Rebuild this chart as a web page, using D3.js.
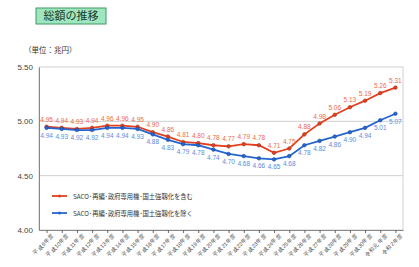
<!DOCTYPE html>
<html lang="ja">
<head>
<meta charset="UTF-8">
<script src="https://d3js.org/d3.v7.min.js"></script>
<style>
  body { margin: 0; background: #fff; }
  svg { display: block; font-family: "Noto Sans CJK JP", "Noto Sans", sans-serif; }
</style>
</head>
<body>
<svg id="chart" width="419" height="267"></svg>
<script>
// 年度
const years = ["平成9年度","平成10年度","平成11年度","平成12年度","平成13年度","平成14年度","平成15年度","平成16年度",
  "平成17年度","平成18年度","平成19年度","平成20年度","平成21年度","平成22年度","平成23年度","平成24年度",
  "平成25年度","平成26年度","平成27年度","平成28年度","平成29年度","平成30年度","令和元年度","令和2年度"];
// SACO等を含む
const withSaco = [4.95,4.94,4.93,4.94,4.96,4.96,4.95,4.90,4.86,4.81,4.80,4.78,4.77,4.79,4.78,4.71,4.75,4.88,4.98,5.06,5.13,5.19,5.26,5.31];
// SACO等を除く
const withoutSaco = [4.94,4.93,4.92,4.92,4.94,4.94,4.93,4.88,4.83,4.79,4.78,4.74,4.70,4.68,4.66,4.65,4.68,4.78,4.82,4.86,4.90,4.94,5.01,5.07];
const yTicks = [4.00, 4.50, 5.00, 5.50];
const seriesNames = ["SACO･再編･政府専用機･国土強靱化を含む", "SACO･再編･政府専用機･国土強靱化を除く"];

const svg = d3.select("#chart");
const plotL = 39, plotR = 403, plotT = 67, plotB = 230;

const x = d3.scalePoint().domain(years).range([plotL, plotR]).padding(0.5);
const y = d3.scaleLinear().domain([4.0, 5.5]).range([plotB, plotT]);

// タイトル
svg.append("rect").attr("x", 36).attr("y", 8).attr("width", 70).attr("height", 16)
  .attr("fill", "#9fe6bf").attr("stroke", "#3d9a66").attr("stroke-width", 1);
svg.append("text").attr("x", 71).attr("y", 20).attr("text-anchor", "middle")
  .attr("font-size", 11).attr("fill", "#1a3a2a").text("総額の推移");
svg.append("text").attr("x", 24).attr("y", 53)
  .attr("font-size", 7.5).attr("fill", "#333").text("（単位：兆円）");

// 枠・グリッド
svg.append("rect").attr("x", plotL).attr("y", plotT).attr("width", plotR - plotL).attr("height", plotB - plotT)
  .attr("fill", "none").attr("stroke", "#d0d0d0");
svg.append("g").selectAll("line").data(yTicks.slice(1, 3)).join("line")
  .attr("x1", plotL).attr("x2", plotR).attr("y1", d => y(d)).attr("y2", d => y(d))
  .attr("stroke", "#cfcfcf");

// y軸
const yAxis = svg.append("g").attr("transform", `translate(${plotL},0)`)
  .call(d3.axisLeft(y).tickValues(yTicks).tickFormat(d3.format(".2f")).tickSize(0).tickPadding(6));
yAxis.select(".domain").attr("stroke", "#888");
yAxis.selectAll("text").attr("font-size", 8).attr("fill", "#444").attr("font-family", "Liberation Sans, Arial, sans-serif");

// x軸
const xAxis = svg.append("g").attr("transform", `translate(0,${plotB})`)
  .call(d3.axisBottom(x).tickSize(3).tickSizeOuter(0));
xAxis.select(".domain").attr("stroke", "#888");
xAxis.selectAll(".tick line").attr("stroke", "#666");
xAxis.selectAll("text")
  .attr("font-size", 5.5).attr("fill", "#444")
  .attr("text-anchor", "end")
  .attr("dx", "0.2em").attr("dy", "0.6em")
  .attr("transform", "rotate(-45)");

const series = [
  { values: withSaco, color: "#e2401f", label: "#ee6a4e", dy: -5, name: seriesNames[0] },
  { values: withoutSaco, color: "#2565cf", label: "#5a8be0", dy: 10, name: seriesNames[1] }
];

const line = d3.line().x((d, i) => x(years[i])).y(d => y(d));

series.forEach(s => {
  svg.append("path").attr("d", line(s.values))
    .attr("fill", "none").attr("stroke", s.color).attr("stroke-width", 1.8);
  svg.append("g").selectAll("circle").data(s.values).join("circle")
    .attr("cx", (d, i) => x(years[i])).attr("cy", d => y(d)).attr("r", 1.8)
    .attr("fill", s.color).attr("stroke", d3.color(s.color).darker(0.8)).attr("stroke-width", 0.6);
  svg.append("g").selectAll("text").data(s.values).join("text")
    .attr("x", (d, i) => x(years[i])).attr("y", d => y(d) + s.dy)
    .attr("text-anchor", "middle").attr("font-size", 6.5).attr("fill", s.label)
    .attr("font-family", "Liberation Sans, Arial, sans-serif")
    .text(d => d3.format(".2f")(d));
});

// 凡例
const legend = svg.append("g").selectAll("g").data(series).join("g")
  .attr("transform", (d, i) => `translate(52,${196 + i * 17})`);
legend.append("line").attr("x1", 0).attr("x2", 15).attr("stroke", d => d.color).attr("stroke-width", 1.8);
legend.append("circle").attr("cx", 7.5).attr("r", 1.5).attr("fill", d => d.color);
legend.append("text").attr("x", 21).attr("y", 2.5).attr("font-size", 6.3).attr("fill", "#333")
  .text(d => d.name);
</script>
</body>
</html>
